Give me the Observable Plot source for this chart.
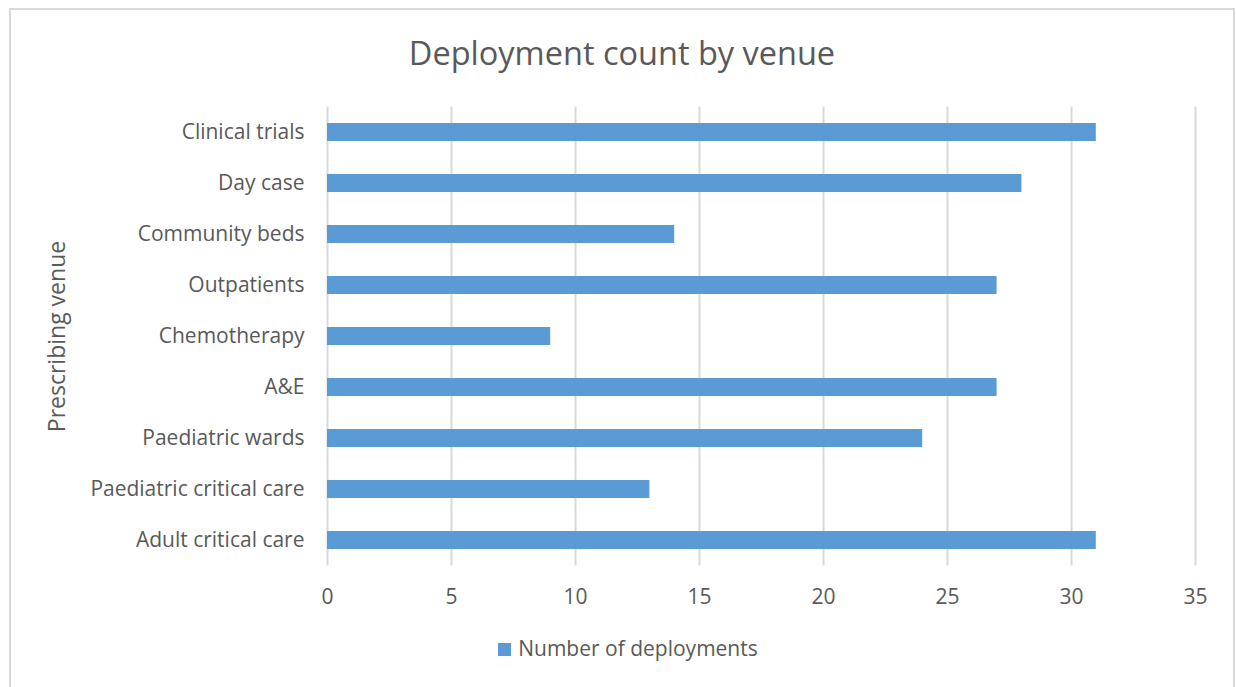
<!DOCTYPE html>
<html>
<head>
<meta charset="utf-8">
<script src="https://cdn.jsdelivr.net/npm/d3@7"></script>
<script src="https://cdn.jsdelivr.net/npm/@observablehq/plot@0.6"></script>
<style>
  html, body { margin: 0; padding: 0; background: #fff; }
  body { width: 1236px; height: 687px; overflow: hidden; position: relative; font-family: "Open Sans", sans-serif; color: #595959; }
  #frame { position: absolute; left: 9px; top: 8px; width: 1226px; height: 700px; border: 2px solid #d9d9d9; box-sizing: border-box; }
  #title { position: absolute; left: 0; top: 31px; width: 1244px; text-align: center; font-size: 32.5px; line-height: 44px; color: #595959; }
  #chart { position: absolute; left: 0; top: 90px; }
  #legend { position: absolute; left: 0; top: 634px; width: 1256px; text-align: center; font-size: 21px; line-height: 28px; color: #595959; }
  #legend .sw { display: inline-block; width: 13px; height: 13px; background: #5b9bd5; margin-right: 7px; vertical-align: 0px; }
  #chart svg g[aria-label="y-axis label"] text { font-size: 23px; }
</style>
</head>
<body>
<div id="frame"></div>
<div id="title">Deployment count by venue</div>
<div id="chart"></div>
<div id="legend"><span class="sw"></span>Number of deployments</div>
<script>
// Venues, listed top to bottom
const venues = [
  "Clinical trials",
  "Day case",
  "Community beds",
  "Outpatients",
  "Chemotherapy",
  "A&E",
  "Paediatric wards",
  "Paediatric critical care",
  "Adult critical care"
];
// Number of deployments per venue
const deployments = [31, 28, 14, 27, 9, 27, 24, 13, 31];
// X axis ticks
const xTicks = [0, 5, 10, 15, 20, 25, 30, 35];

const data = venues.map((venue, i) => ({venue, count: deployments[i]}));

const chart = Plot.plot({
  width: 1236,
  height: 540,
  marginLeft: 327,
  marginRight: 41,
  marginTop: 16.5,
  marginBottom: 64.5,
  style: {fontFamily: "'Open Sans', sans-serif", fontSize: "21px", color: "#595959", background: "transparent"},
  x: {domain: [0, 35], label: null},
  y: {domain: venues, paddingInner: 0.65, paddingOuter: 0.325},
  marks: [
    Plot.gridX(xTicks, {stroke: "#d9d9d9", strokeOpacity: 1, strokeWidth: 2}),
    Plot.barX(data, {y: "venue", x: "count", fill: "#5b9bd5"}),
    Plot.axisX({ticks: xTicks, tickSize: 0, tickPadding: 23, label: null}),
    Plot.axisY({tickSize: 0, tickPadding: 23, label: "Prescribing venue", labelAnchor: "center", labelOffset: 279, labelArrow: "none"}),
  ]
});
document.getElementById("chart").appendChild(chart);
</script>
</body>
</html>
